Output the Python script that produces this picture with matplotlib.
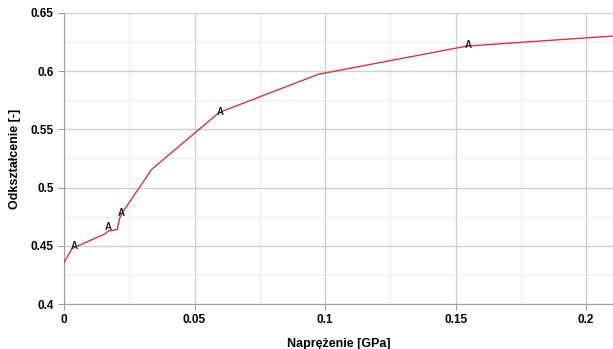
import numpy as np
import matplotlib.pyplot as plt
from matplotlib.ticker import MultipleLocator

plt.rcParams['font.family'] = ['Liberation Sans', 'DejaVu Sans']

# curve
naprezenie = [0.0, 0.0031, 0.0154, 0.0170, 0.0204, 0.0213, 0.0220, 0.0336,
              0.0594, 0.0974, 0.1544, 0.2110]
odksztalcenie = [0.4355, 0.4477, 0.4599, 0.4627, 0.4640, 0.4735, 0.4773, 0.5157,
                 0.5645, 0.5973, 0.6216, 0.6303]

# "A" markers
a_x = [0.0038, 0.0170, 0.0220, 0.0599, 0.1549]
a_y = [0.4495, 0.4660, 0.4780, 0.5650, 0.6225]

fig = plt.figure(figsize=(6.13, 3.49), dpi=100)
ax = fig.add_axes([0.1044, 0.1289, 0.8956, 0.8339])

ax.plot(naprezenie, odksztalcenie, color='#dc3048', lw=1.0, zorder=3)
for x, y in zip(a_x, a_y):
    ax.text(x, y, 'A', fontsize=7, fontweight='bold', color='#222222',
            ha='center', va='center', zorder=4)

ax.set_xlim(0, 0.2103)
ax.set_ylim(0.4, 0.65)
ax.xaxis.set_minor_locator(MultipleLocator(0.025))
ax.yaxis.set_minor_locator(MultipleLocator(0.025))
ax.set_xticks([0, 0.05, 0.1, 0.15, 0.2])
ax.set_xticklabels(['0', '0.05', '0.1', '0.15', '0.2'])
ax.set_yticks([0.4, 0.45, 0.5, 0.55, 0.6, 0.65])
ax.set_yticklabels(['0.4', '0.45', '0.5', '0.55', '0.6', '0.65'])

ax.grid(which='major', color='#d0d0d0', lw=1.0)
ax.grid(which='minor', color='#ececec', lw=0.8)
ax.set_axisbelow(True)

for s in ['top', 'right']:
    ax.spines[s].set_visible(False)
for s in ['left', 'bottom']:
    ax.spines[s].set_color('#a0a0a0')

ax.tick_params(which='major', length=4, color='#a0a0a0', labelsize=8.5)
ax.tick_params(which='minor', length=0)
for lab in ax.get_xticklabels() + ax.get_yticklabels():
    lab.set_fontweight('bold')

ax.set_xlabel('Naprężenie [GPa]', fontsize=9, fontweight='bold', labelpad=8)
ax.set_ylabel('Odkształcenie [-]', fontsize=9, fontweight='bold', labelpad=7)

fig.savefig('out.png', dpi=100)
